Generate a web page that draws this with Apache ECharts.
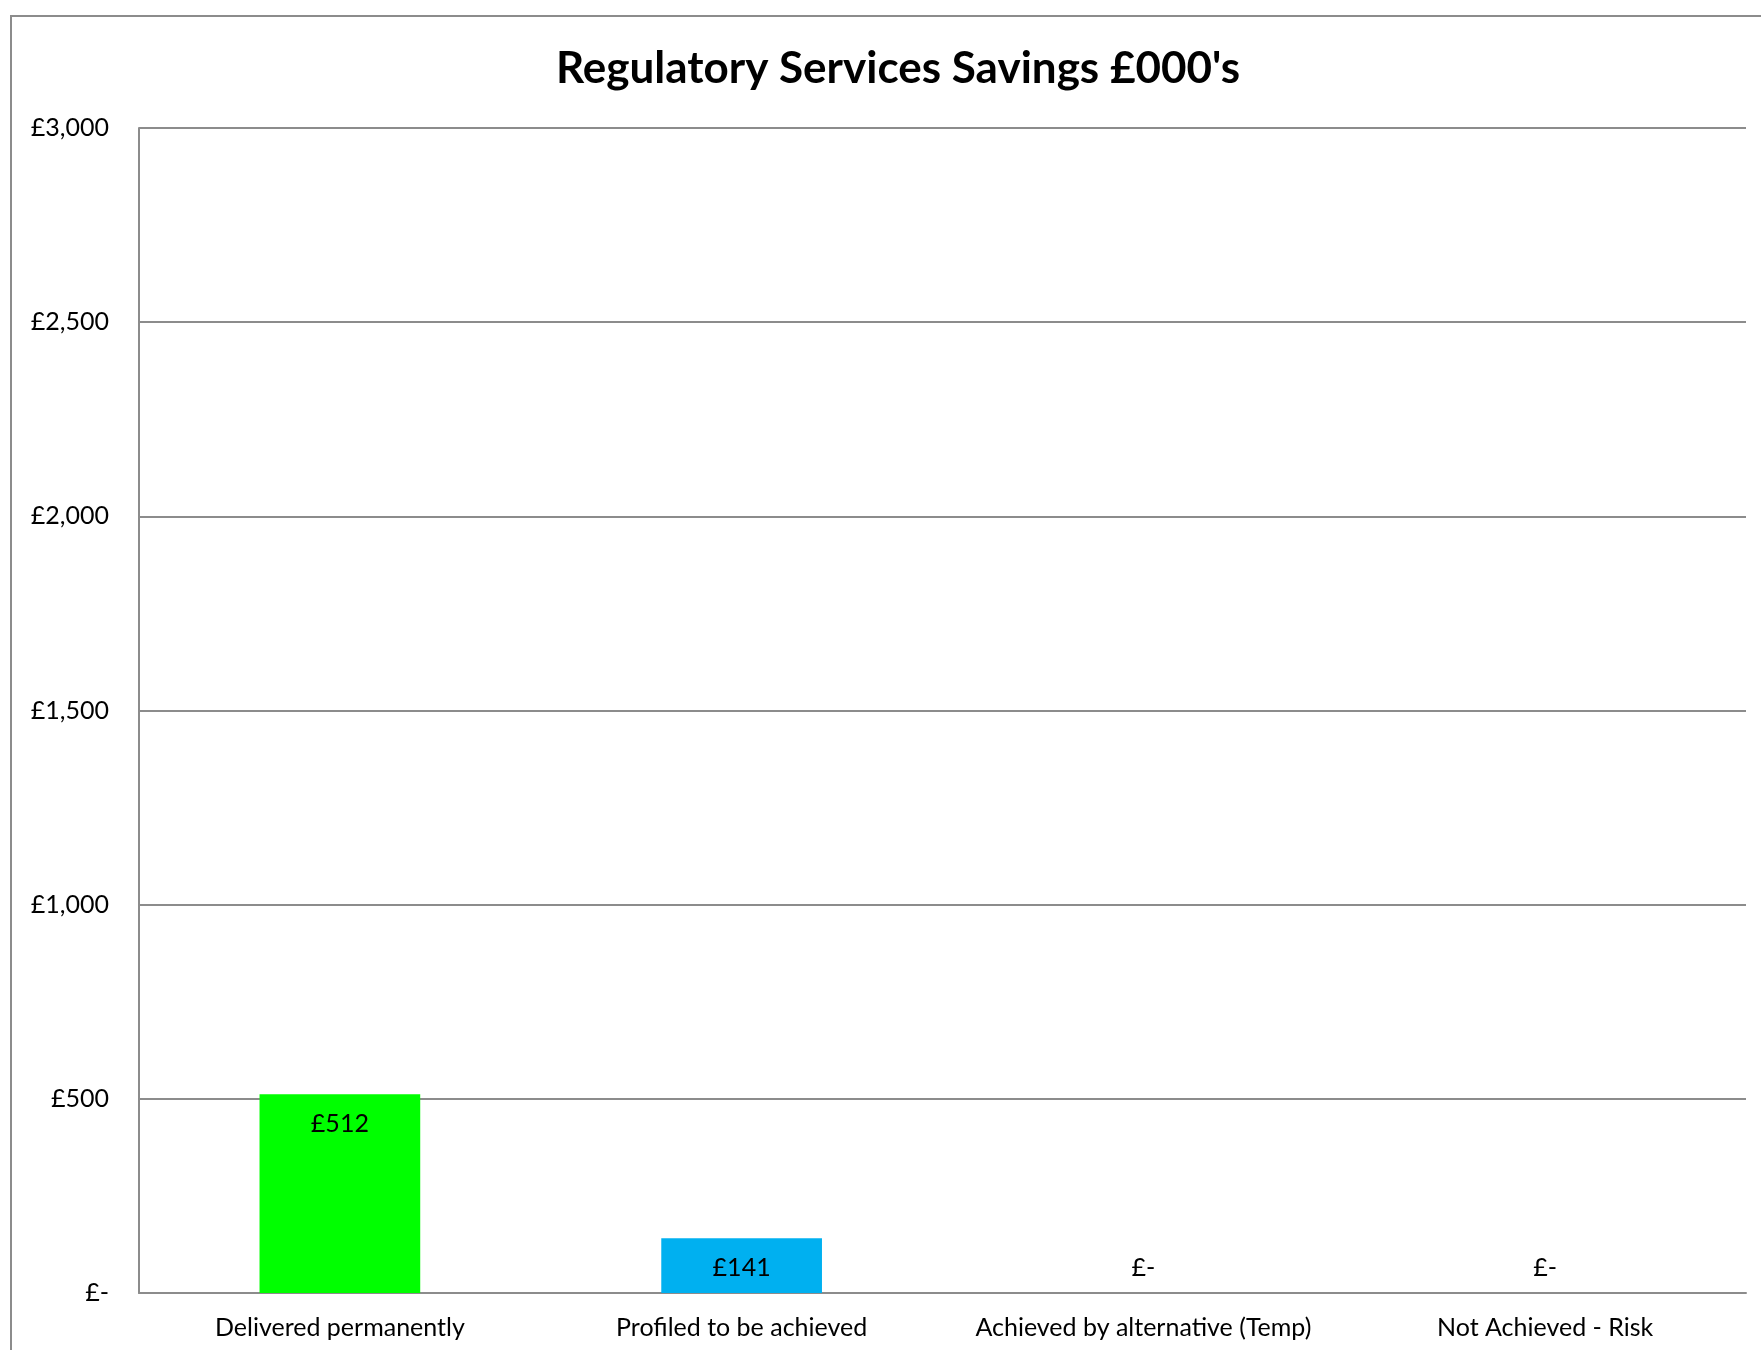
<!DOCTYPE html>
<html>
<head>
<meta charset="utf-8">
<title>Regulatory Services Savings</title>
<script src="https://cdn.jsdelivr.net/npm/echarts@6/dist/echarts.min.js"></script>
<style>
  html, body { margin: 0; padding: 0; background: #fff; }
  #chart { width: 1761px; height: 1350px; }
</style>
</head>
<body>
<div id="chart"></div>
<script>
// 数据
const categories = ['Delivered permanently', 'Profiled to be achieved', 'Achieved by alternative (Temp)', 'Not Achieved - Risk']
const savings = [512, 141, 0, 0]
const barColors = ['#00FF00', '#00B0F0', '#7F7F7F', '#FF0000']

const fmt = v => v === 0 ? '£-' : '£' + v.toLocaleString('en-GB')

const chart = echarts.init(document.getElementById('chart'))

const data = savings.map((v, i) => {
  const item = { value: v, itemStyle: { color: barColors[i] } }
  // 零值标签放在轴线上方
  if (v === 0) {
    item.label = { position: 'top', distance: 13 }
  }
  return item
})

chart.setOption({
  animation: false,
  textStyle: { fontFamily: 'Lato, "Open Sans", sans-serif' },
  graphic: [{
    type: 'rect',
    shape: { x: 11, y: 16, width: 1800, height: 1400 },
    style: { fill: 'none', stroke: '#8c8c8c', lineWidth: 2 },
    silent: true
  }],
  title: {
    text: "Regulatory Services Savings £000's",
    left: 893,
    textAlign: 'center',
    top: 42,
    textStyle: {
      color: '#000',
      fontSize: 44,
      fontWeight: 'bold',
      fontFamily: 'Lato, "Open Sans", sans-serif'
    }
  },
  grid: {
    left: 139,
    right: 15,
    top: 128,
    bottom: 57,
    containLabel: false
  },
  xAxis: {
    type: 'category',
    data: categories,
    axisTick: { show: false },
    axisLine: { lineStyle: { color: '#8c8c8c', width: 2 } },
    axisLabel: {
      color: '#000',
      fontSize: 25,
      margin: 22,
      interval: 0
    }
  },
  yAxis: {
    type: 'value',
    min: 0,
    max: 3000,
    interval: 500,
    axisLine: { show: true, lineStyle: { color: '#8c8c8c', width: 2 } },
    axisTick: { show: false },
    axisLabel: {
      color: '#000',
      fontSize: 25,
      margin: 30,
      formatter: fmt
    },
    splitLine: { lineStyle: { color: '#8c8c8c', width: 2 } }
  },
  series: [{
    type: 'bar',
    data: data,
    barWidth: '40%',
    label: {
      show: true,
      position: 'insideTop',
      distance: 17,
      color: '#000',
      fontSize: 25,
      formatter: p => fmt(p.value)
    }
  }]
})
</script>
</body>
</html>
